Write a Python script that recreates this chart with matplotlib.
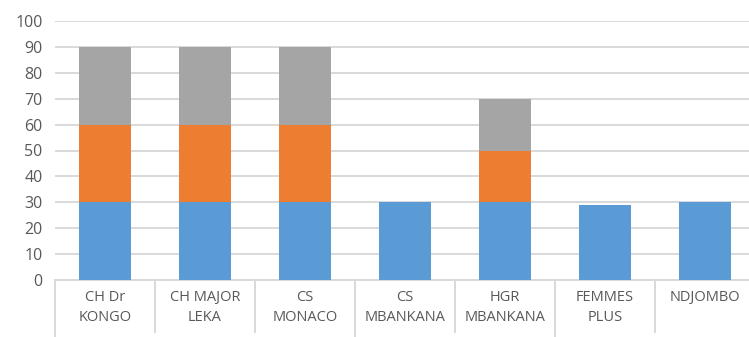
import matplotlib.pyplot as plt
import numpy as np

plt.rcParams['font.family'] = ['Liberation Sans Narrow', 'Open Sans', 'DejaVu Sans']

# chart data
categories = ["CH Dr\nKONGO", "CH MAJOR\nLEKA", "CS\nMONACO", "CS\nMBANKANA",
              "HGR\nMBANKANA", "FEMMES\nPLUS", "NDJOMBO"]
serie1 = [30, 30, 30, 30, 30, 29, 30]
serie2 = [30, 30, 30, 0, 20, 0, 0]
serie3 = [30, 30, 30, 0, 20, 0, 0]
yticks = [0, 10, 20, 30, 40, 50, 60, 70, 80, 90, 100]

blue, orange, grey = '#5B9BD5', '#ED7D31', '#A5A5A5'
text_col = '#595959'
grid_col = '#D9D9D9'

fig = plt.figure(figsize=(7.49, 3.37), dpi=100)
# axes runs a bit past the right edge, like the cropped original
ax = fig.add_axes([55 / 749, 57 / 337, 700 / 749, 259 / 337])

x = np.arange(len(categories))
w = 0.52
s1 = np.array(serie1)
s2 = np.array(serie2)
s3 = np.array(serie3)
ax.bar(x, s1, w, color=blue, zorder=3)
ax.bar(x, s2, w, bottom=s1, color=orange, zorder=3)
ax.bar(x, s3, w, bottom=s1 + s2, color=grey, zorder=3)

ax.set_xlim(-0.5, len(categories) - 0.5)
ax.set_ylim(0, 100)
ax.set_yticks(yticks)
ax.yaxis.grid(True, color=grid_col, linewidth=1.4)
ax.set_axisbelow(True)
for sp in ['top', 'right', 'left']:
    ax.spines[sp].set_visible(False)
ax.spines['bottom'].set_color(grid_col)
ax.spines['bottom'].set_linewidth(1.4)

ax.tick_params(axis='y', length=0, pad=9, labelsize=11.5, labelcolor=text_col)
ax.set_xticks(x)
ax.set_xticklabels(categories, fontsize=10.5, color=text_col, linespacing=1.45)
ax.tick_params(axis='x', length=0, pad=7)

# category separators under the axis (multi-level axis look)
trans = ax.get_xaxis_transform()
long_seps = [-0.5, 2.5, 4.5]
for b in np.arange(-0.5, len(categories), 1.0):
    y_end = -0.32 if b in long_seps else -0.2
    ax.plot([b, b], [0, y_end], transform=trans, color=grid_col,
            linewidth=1.4, clip_on=False)

fig.savefig('out.png', dpi=100)
